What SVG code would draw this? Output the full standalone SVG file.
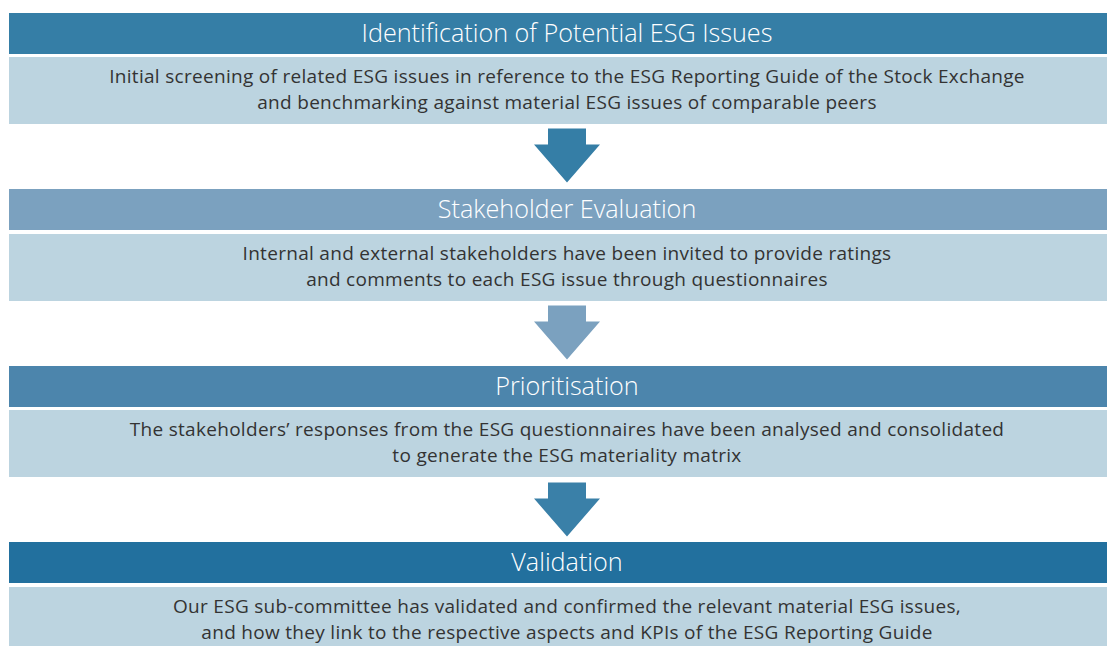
<svg xmlns="http://www.w3.org/2000/svg" width="1110" height="646" viewBox="0 0 1110 646">
<style>
.hd{font-family:"Open Sans","Noto Sans","Liberation Sans",sans-serif;font-size:25.2px;fill:#ffffff;text-anchor:middle;font-weight:300}
.bd{font-family:"Open Sans","Noto Sans","Liberation Sans",sans-serif;font-size:19px;letter-spacing:0.3px;fill:#333333;text-anchor:middle}
.body{fill:#bcd4e0}
</style>
<defs>
<path id="arr" d="M-19,0 H19 V16 H33 L0,54 L-33,16 H-19 Z"/>
</defs>
<rect width="1110" height="646" fill="#ffffff"/>
<g id="step1">
<rect x="9" y="13" width="1098" height="41" fill="#357ea6"/>
<text class="hd" x="567" y="42">Identification of Potential ESG Issues</text>
<rect class="body" x="9" y="57" width="1098" height="67"/>
<text class="bd" x="567" y="83">Initial screening of related ESG issues in reference to the ESG Reporting Guide of the Stock Exchange</text>
<text class="bd" x="567" y="109">and benchmarking against material ESG issues of comparable peers</text>
</g>
<g id="step2">
<rect x="9" y="189" width="1098" height="41" fill="#7ba1bf"/>
<text class="hd" x="567" y="218">Stakeholder Evaluation</text>
<rect class="body" x="9" y="234" width="1098" height="67"/>
<text class="bd" x="567" y="260">Internal and external stakeholders have been invited to provide ratings</text>
<text class="bd" x="567" y="286">and comments to each ESG issue through questionnaires</text>
</g>
<g id="step3">
<rect x="9" y="366" width="1098" height="41" fill="#4c85ac"/>
<text class="hd" x="567" y="395">Prioritisation</text>
<rect class="body" x="9" y="410" width="1098" height="67"/>
<text class="bd" x="567" y="436">The stakeholders’ responses from the ESG questionnaires have been analysed and consolidated</text>
<text class="bd" x="567" y="462">to generate the ESG materiality matrix</text>
</g>
<g id="step4">
<rect x="9" y="542" width="1098" height="41" fill="#22709e"/>
<text class="hd" x="567" y="571">Validation</text>
<rect class="body" x="9" y="587" width="1098" height="59"/>
<text class="bd" x="567" y="613">Our ESG sub-committee has validated and confirmed the relevant material ESG issues,</text>
<text class="bd" x="567" y="639">and how they link to the respective aspects and KPIs of the ESG Reporting Guide</text>
</g>
<g id="connectors">
<use href="#arr" x="567" y="128.5" fill="#357ea6"/>
<use href="#arr" x="567" y="305.5" fill="#7ba1bf"/>
<use href="#arr" x="567" y="482.5" fill="#3a80a8"/>
</g>
</svg>
